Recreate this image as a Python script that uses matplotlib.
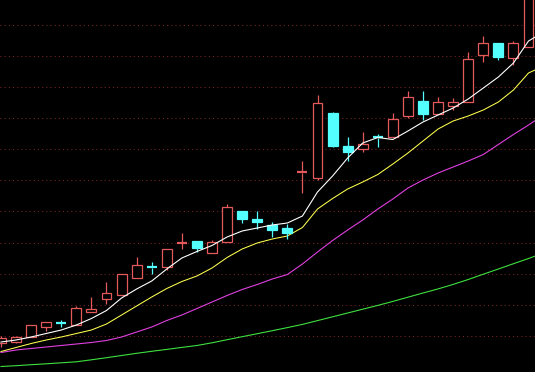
import matplotlib
matplotlib.use("Agg")
import matplotlib.pyplot as plt
from matplotlib.patches import Rectangle
import numpy as np

# ---- data ----
opens  = [2.9, 3.03, 3.5, 4.53, 4.93, 4.7, 6.05, 7.33, 7.7, 9.45, 10.5, 10.53, 12.9, 13.1, 11.95,
          13.05, 16.15, 15.3, 14.73, 14.45, 19.95, 19.38, 25.9, 22.6, 22.32, 23.48, 23.53, 25.65,
          27.1, 25.77, 26.63, 26.97, 31.7, 32.87, 31.45, 32.53]
closes = [3.4, 3.53, 4.7, 4.97, 4.9, 6.37, 6.27, 7.9, 9.77, 10.67, 10.45, 12.27, 12.95, 12.4, 13.0,
          16.47, 15.27, 15.03, 14.17, 13.87, 20.0, 26.87, 22.63, 22.03, 22.78, 23.45, 25.28, 27.47,
          25.77, 26.97, 26.97, 31.27, 32.87, 31.53, 32.87, 39.0]
highs  = [3.6, 3.6, 4.7, 5.0, 5.25, 6.6, 7.5, 9.03, 9.8, 11.53, 10.97, 12.27, 13.87, 13.1, 13.2,
          16.78, 16.15, 16.1, 15.05, 14.83, 21.1, 27.7, 26.0, 23.5, 24.0, 23.8, 25.9, 28.12,
          28.1, 27.53, 27.45, 32.03, 33.6, 32.87, 33.13, 40.0]
lows   = [2.5, 2.9, 3.5, 4.1, 4.5, 4.7, 6.05, 6.85, 7.7, 9.45, 9.8, 10.2, 12.35, 12.0, 11.95,
          13.05, 14.87, 14.27, 13.53, 13.33, 17.93, 19.2, 22.5, 21.1, 22.05, 22.53, 23.53, 25.37,
          25.17, 25.77, 26.2, 26.97, 31.03, 31.2, 30.7, 32.53]

ma_white  = [3.0, 3.2, 3.5, 3.85, 4.2, 4.7, 5.35, 6.15, 7.4, 8.3, 9.1, 10.3, 11.4, 12.05, 12.65,
             13.5, 14.1, 14.4, 14.7, 14.9, 15.6, 18.0, 19.6, 21.4, 22.9, 23.45, 23.25, 24.1, 25.0,
             25.7, 26.4, 27.3, 28.4, 29.5, 30.9, 33.1, 34.0]
ma_yellow = [2.05, 2.45, 2.85, 3.2, 3.5, 3.85, 4.2, 4.8, 5.7, 6.6, 7.5, 8.35, 9.05, 9.6, 10.4,
             11.45, 12.3, 12.9, 13.3, 13.6, 14.45, 16.3, 17.35, 18.3, 19.0, 19.75, 20.8, 21.9, 23.1,
             24.3, 25.1, 25.6, 26.2, 27.0, 28.2, 29.9, 30.6]
ma_magenta = [1.95, 2.2, 2.35, 2.5, 2.65, 2.8, 2.95, 3.15, 3.5, 4.0, 4.5, 5.15, 5.7, 6.35, 7.0,
              7.65, 8.25, 8.75, 9.3, 9.75, 10.8, 12.0, 13.15, 14.2, 15.2, 16.3, 17.3, 18.4, 19.2,
              19.9, 20.5, 21.1, 21.75, 22.75, 23.75, 24.7, 25.7]
ma_green  = [0.55, 0.63, 0.73, 0.82, 0.92, 1.02, 1.22, 1.43, 1.65, 1.87, 2.07, 2.26, 2.46, 2.65,
             2.92, 3.23, 3.53, 3.83, 4.13, 4.44, 4.76, 5.14, 5.52, 5.9, 6.28, 6.66, 7.06, 7.48,
             7.9, 8.31, 8.76, 9.25, 9.78, 10.3, 10.83, 11.35, 11.9]

grid_base = 3.6
grid_step = 3.115
n_grid = 11

# ---- styling ----
RED = "#e45a5c"
CYAN = "#54ffff"
BODY_W = 0.66

fig = plt.figure(figsize=(5.35, 3.72), dpi=100, facecolor="black")
ax = fig.add_axes([0, 0, 1, 1])
ax.set_facecolor("black")

for k in range(n_grid):
    ax.axhline(grid_base + k * grid_step, color="#7a2424", lw=0.75,
               linestyle=(0, (1, 3)), zorder=1)

xs = np.arange(len(opens))
for i in xs:
    o, c, h, l = opens[i], closes[i], highs[i], lows[i]
    up = c >= o
    col = RED if up else CYAN
    top, bot = max(o, c), min(o, c)
    if h > top:
        ax.vlines(i, top, h, color=col, lw=0.9, zorder=3)
    if l < bot:
        ax.vlines(i, l, bot, color=col, lw=0.9, zorder=3)
    hgt = top - bot
    if hgt < 0.12:
        ax.hlines((o + c) / 2, i - BODY_W / 2, i + BODY_W / 2, color=col, lw=1.6, zorder=4)
    else:
        ax.add_patch(Rectangle((i - BODY_W / 2, bot), BODY_W, hgt,
                               facecolor=("black" if up else CYAN), edgecolor=col,
                               lw=0.9, zorder=4))

mx = np.arange(len(ma_white))
ax.plot(mx, ma_green, color="#3ee03e", lw=0.8, zorder=2)
ax.plot(mx, ma_magenta, color="#e040e0", lw=0.8, zorder=2)
ax.plot(mx, ma_yellow, color="#ffff50", lw=0.75, zorder=2)
ax.plot(mx, ma_white, color="#ffffff", lw=0.8, zorder=5)

ax.set_xlim(-0.066, 35.43)
ax.set_ylim(0, 37.2)
ax.axis("off")

fig.savefig("out.png", dpi=100, facecolor="black")
